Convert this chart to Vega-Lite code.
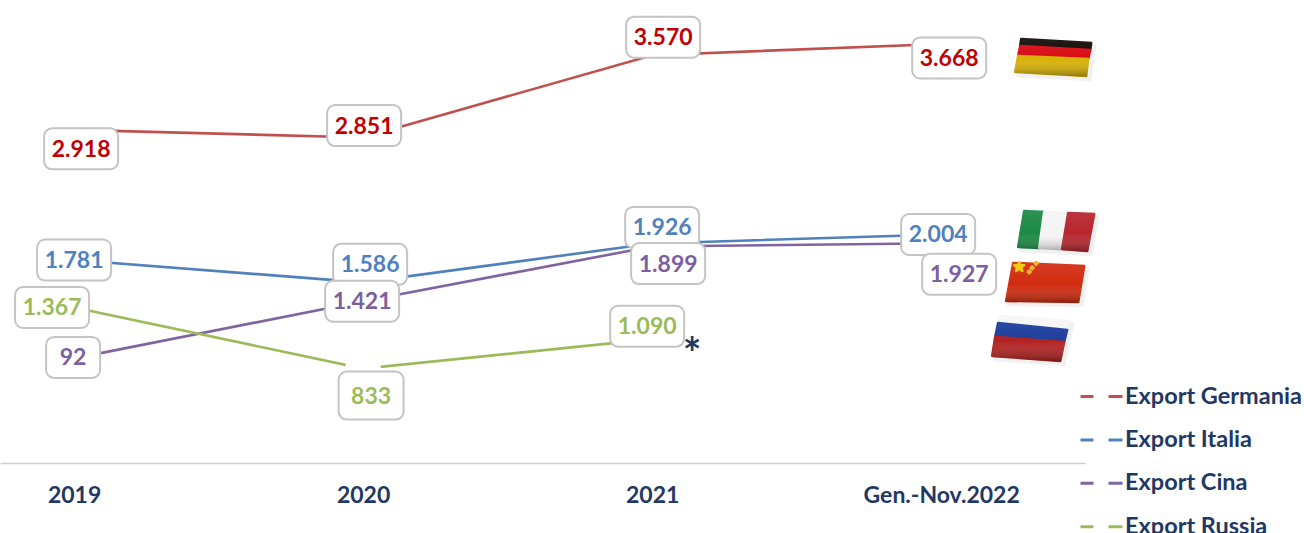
{
"$schema":"https://vega.github.io/schema/vega-lite/v6.json",
"width":1304,"height":533,"padding":0,"autosize":{"type":"none"},
"background":"white",
"config":{"view":{"stroke":null},"font":"Lato"},
"datasets":{
"serie":[
{"serie":"Export Germania","periodo":"2019","valore":2918,"etichetta":"2.918"},
{"serie":"Export Germania","periodo":"2020","valore":2851,"etichetta":"2.851"},
{"serie":"Export Germania","periodo":"2021","valore":3570,"etichetta":"3.570"},
{"serie":"Export Germania","periodo":"Gen.-Nov.2022","valore":3668,"etichetta":"3.668"},
{"serie":"Export Italia","periodo":"2019","valore":1781,"etichetta":"1.781"},
{"serie":"Export Italia","periodo":"2020","valore":1586,"etichetta":"1.586"},
{"serie":"Export Italia","periodo":"2021","valore":1926,"etichetta":"1.926"},
{"serie":"Export Italia","periodo":"Gen.-Nov.2022","valore":2004,"etichetta":"2.004"},
{"serie":"Export Cina","periodo":"2019","valore":922,"etichetta":"92"},
{"serie":"Export Cina","periodo":"2020","valore":1421,"etichetta":"1.421"},
{"serie":"Export Cina","periodo":"2021","valore":1899,"etichetta":"1.899"},
{"serie":"Export Cina","periodo":"Gen.-Nov.2022","valore":1927,"etichetta":"1.927"},
{"serie":"Export Russia","periodo":"2019","valore":1367,"etichetta":"1.367"},
{"serie":"Export Russia","periodo":"2020","valore":833,"etichetta":"833"},
{"serie":"Export Russia","periodo":"2021","valore":1090,"etichetta":"1.090"}
],
"bande":[
{"banda":"G-ombra"},{"banda":"G-nero"},{"banda":"G-rosso"},{"banda":"G-oro"},
{"banda":"I-ombra"},{"banda":"I-verde"},{"banda":"I-bianco"},{"banda":"I-rosso"},
{"banda":"C-ombra"},{"banda":"C-rosso"},{"banda":"C-stella"},{"banda":"C-s1"},{"banda":"C-s2"},{"banda":"C-s3"},
{"banda":"R-ombra"},{"banda":"R-bianco"},{"banda":"R-blu"},{"banda":"R-rosso"}
],
"lucidi":[{"bandiera":"G"},{"bandiera":"I"},{"bandiera":"C"},{"bandiera":"R"}]
},
"layer":[
{"data":{"name":"serie"},
"transform":[
{"calculate":"datum.serie+'|'+substring(datum.periodo,0,4)","as":"chiave"},
{"calculate":"({'Export Germania|2019':7,'Export Germania|2020':1,'Export Germania|2021':11,'Export Germania|Gen.':8,'Export Italia|2019':0,'Export Italia|2020':7,'Export Italia|2021':10,'Export Italia|Gen.':-3,'Export Cina|2019':-1,'Export Cina|2020':-1,'Export Cina|2021':16,'Export Cina|Gen.':18,'Export Russia|2019':-22,'Export Russia|2020':8,'Export Russia|2021':-5})[datum.chiave]","as":"dx"},
{"calculate":"({'Export Germania|2019':19,'Export Germania|2020':-12,'Export Germania|2021':-18,'Export Germania|Gen.':14,'Export Italia|2019':0,'Export Italia|2020':-18,'Export Italia|2021':-16,'Export Italia|Gen.':0,'Export Cina|2019':-1,'Export Cina|2020':0,'Export Cina|2021':17,'Export Cina|Gen.':31,'Export Russia|2019':0,'Export Russia|2020':27,'Export Russia|2021':-13})[datum.chiave]","as":"dy"},
{"calculate":"datum.valore-datum.dy/0.1145","as":"posEtichetta"}
],
"encoding":{
"x":{"field":"periodo","type":"ordinal",
"scale":{"type":"point","domain":["2019","2020","2021","Gen.-Nov.2022"],"range":[0,1085],"padding":0.377,"align":0.34},
"axis":{"title":null,"labelAngle":0,"offset":-70,"ticks":false,"grid":false,"domainColor":"#cfcfcf","domainWidth":1.5,"labelFont":"Lato","labelFontWeight":"bold","labelFontSize":23,"labelColor":"#1f3864","labelPadding":21}},
"y":{"field":"valore","type":"quantitative","scale":{"domain":[-603,4052],"nice":false,"zero":false},"axis":null}
},
"layer":[
{"mark":{"type":"line","strokeWidth":2.6},
"encoding":{"color":{"field":"serie","type":"nominal",
"scale":{"domain":["Export Germania","Export Italia","Export Cina","Export Russia"],"range":["#c0504d","#4f81bd","#8064a2","#9bbb59"]},
"legend":{"orient":"none","legendX":1079,"legendY":375,"title":null,"symbolType":"stroke","symbolSize":1764,"symbolDash":[13,15,14],"symbolStrokeWidth":3,"labelFont":"Lato","labelFontWeight":"bold","labelFontSize":23.5,"labelColor":"#1f3864","labelOffset":1,"rowPadding":0.4,"clipHeight":43,"labelLimit":240}}}},
{"transform":[{"filter":"datum.etichetta==='833'"}],"mark":{"type":"point","shape":"square","filled":true,"opacity":1,"color":"white","size":1225}},
{"transform":[{"filter":"length(datum.etichetta)===5"}],"mark":{"type":"rect","width":74,"height":41,"fill":"white","stroke":"#c4c4c4","strokeWidth":2,"cornerRadius":8},
"encoding":{"y":{"field":"posEtichetta","type":"quantitative"},"xOffset":{"field":"dx","type":"quantitative","scale":null}}},
{"transform":[{"filter":"datum.etichetta==='92'"}],"mark":{"type":"rect","width":54,"height":41,"fill":"white","stroke":"#c4c4c4","strokeWidth":2,"cornerRadius":8},
"encoding":{"y":{"field":"posEtichetta","type":"quantitative"},"xOffset":{"field":"dx","type":"quantitative","scale":null}}},
{"transform":[{"filter":"datum.etichetta==='833'"}],"mark":{"type":"rect","width":65,"height":48,"fill":"white","stroke":"#c4c4c4","strokeWidth":2,"cornerRadius":8},
"encoding":{"y":{"field":"posEtichetta","type":"quantitative"},"xOffset":{"field":"dx","type":"quantitative","scale":null}}},
{"mark":{"type":"text","font":"Lato","fontWeight":"bold","fontSize":23,"align":"center","baseline":"middle","dy":1},
"encoding":{"y":{"field":"posEtichetta","type":"quantitative"},"text":{"field":"etichetta"},
"xOffset":{"field":"dx","type":"quantitative","scale":null},
"color":{"field":"serie","type":"nominal","legend":null,"scale":{"domain":["Export Germania","Export Italia","Export Cina","Export Russia"],"range":["#c00000","#4f81bd","#7b5fa0","#9bbb59"]}}}},
{"transform":[{"filter":"datum.etichetta==='1.090'"}],"mark":{"type":"text","text":"*","font":"Lato","fontWeight":"bold","fontSize":44,"color":"#1f3864","dx":40,"dy":17,"align":"center","baseline":"middle"}}
],
"resolve":{"scale":{"color":"independent"}}},
{"data":{"name":"bande"},
"transform":[{"calculate":"'Gen.-Nov.2022'","as":"periodo"},{"calculate":"3668","as":"valore"}],
"mark":{"type":"point","filled":true,"opacity":1,"size":4,"strokeWidth":2.5,"strokeJoin":"round"},
"encoding":{
"x":{"field":"periodo","type":"ordinal"},
"y":{"field":"valore","type":"quantitative"},
"shape":{"field":"banda","type":"nominal","legend":null,"scale":{
"domain":["G-ombra","G-nero","G-rosso","G-oro","I-ombra","I-verde","I-bianco","I-rosso","C-ombra","C-rosso","C-stella","C-s1","C-s2","C-s3","R-ombra","R-bianco","R-blu","R-rosso"],
"range":[
"M82,-2L154,2L149,36L76,32Z",
"M80,-5L150,-1L149,6L79,2Z","M79,2L149,6L147,15L77,12Z","M77,12L147,15L145,32L74,28Z",
"M85,169L157,172L150,211L79,207Z",
"M83,167L103,168L98,204L77,203Z","M103,168L127,169L121,205L98,204Z","M127,169L153,170L146,207L121,205Z",
"M74,221L147,224L141,262L67,261Z",
"M72,219L143,222L137,258L65,257Z",
"M78,218L79.2,221.3L83,221.3L80,223.5L81.2,227L78,225L74.8,227L76,223.5L73,221.3L76.8,221.3Z",
"M95,218L96.5,219.5L95,221L93.5,219.5Z","M91,222.5L92.5,224L91,225.5L89.5,224Z","M88,226.5L89.5,228L88,229.5L86.5,228Z",
"M62,274L132,279L123,321L53,316Z",
"M60,272L128,277L126,286L57,279Z","M57,279L126,286L123,298L54,293Z","M54,293L123,298L119,317L51,312Z"
]}},
"color":{"field":"banda","type":"nominal","legend":null,"scale":{
"domain":["G-ombra","G-nero","G-rosso","G-oro","I-ombra","I-verde","I-bianco","I-rosso","C-ombra","C-rosso","C-stella","C-s1","C-s2","C-s3","R-ombra","R-bianco","R-blu","R-rosso"],
"range":["#f1f1f1","#120c08","#d90c14","#d8b208","#f1f1f1","#1c8a45","#f4f4f4","#b8262f","#f1f1f1","#d22c10","#f5c800","#f0b020","#f0b020","#f0b020","#f1f1f1","#f6f6f6","#1f3f9e","#b32222"]}},
"stroke":{"field":"banda","type":"nominal","legend":null,"scale":{
"domain":["G-ombra","G-nero","G-rosso","G-oro","I-ombra","I-verde","I-bianco","I-rosso","C-ombra","C-rosso","C-stella","C-s1","C-s2","C-s3","R-ombra","R-bianco","R-blu","R-rosso"],
"range":["#f1f1f1","#120c08","#d90c14","#d8b208","#f1f1f1","#1c8a45","#f4f4f4","#b8262f","#f1f1f1","#d22c10","#f5c800","#f0b020","#f0b020","#f0b020","#f1f1f1","#f6f6f6","#1f3f9e","#b32222"]}}
}},
{"data":{"name":"lucidi"},
"transform":[{"calculate":"'Gen.-Nov.2022'","as":"periodo"},{"calculate":"3668","as":"valore"}],
"mark":{"type":"point","filled":true,"opacity":1,"size":4,"strokeWidth":0,"color":{"gradient":"linear","x1":0,"y1":0,"x2":0,"y2":1,"stops":[{"offset":0,"color":"rgba(255,255,255,0.08)"},{"offset":0.55,"color":"rgba(255,255,255,0)"},{"offset":1,"color":"rgba(0,0,0,0.35)"}]}},
"encoding":{
"x":{"field":"periodo","type":"ordinal"},
"y":{"field":"valore","type":"quantitative"},
"shape":{"field":"bandiera","type":"nominal","legend":null,"scale":{"domain":["G","I","C","R"],"range":["M79,-6L151,-2L146,33L73,29Z","M82,166L154,169L147,208L76,204Z","M71,218L144,221L138,259L64,258Z","M59,271L129,276L120,318L50,313Z"]}}
}}
],
"resolve":{"scale":{"color":"independent","shape":"independent","stroke":"independent"}}
}
